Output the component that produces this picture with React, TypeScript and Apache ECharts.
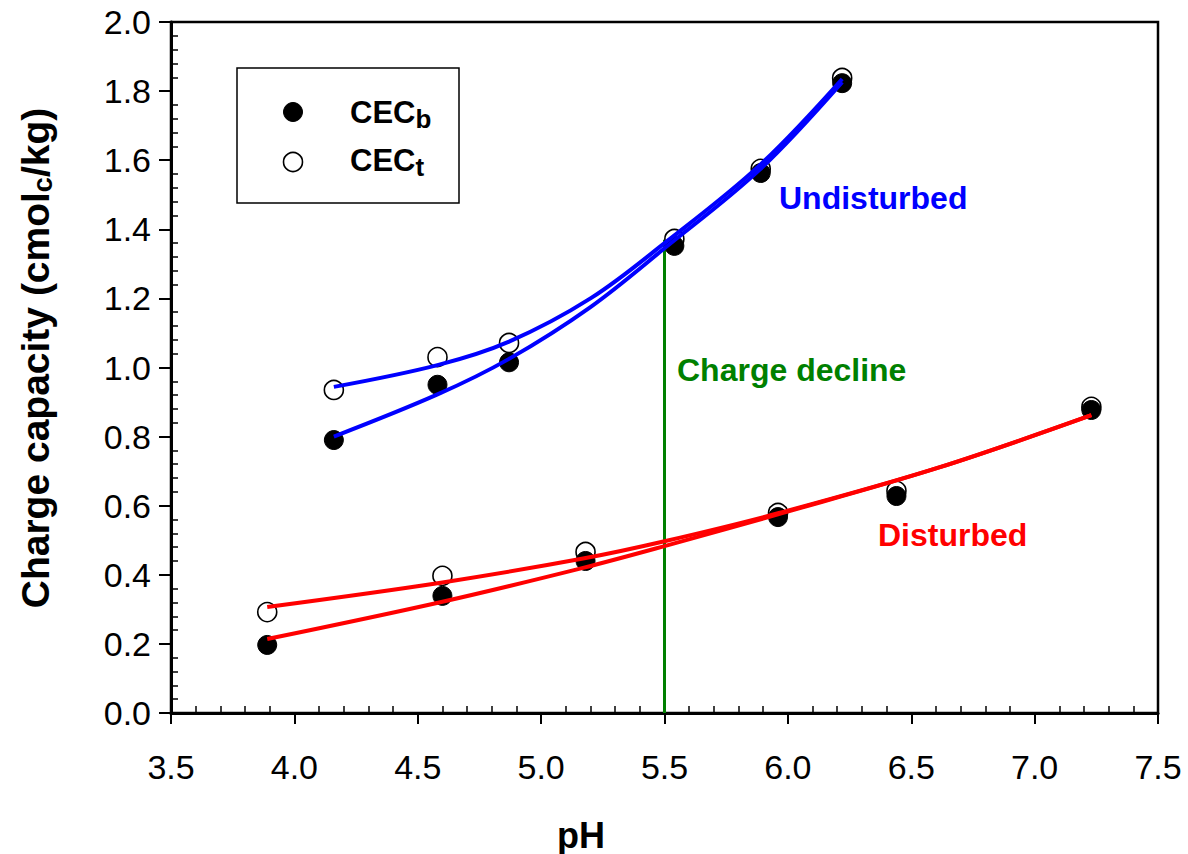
import React, { useEffect, useRef } from "react";
import * as echarts from "echarts";

// ---- Axis settings ----
const xMin = 3.5;
const xMax = 7.5;
const xStep = 0.5;
const yMin = 0;
const yMax = 2.0;
const yStep = 0.2;

// ---- Measured points ----
const undistPH = [4.16, 4.58, 4.87, 5.54, 5.89, 6.22];
const undistCECb = [0.79, 0.95, 1.015, 1.352, 1.563, 1.823];
const undistCECt = [0.935, 1.03, 1.071, 1.372, 1.575, 1.838];

const distPH = [3.89, 4.6, 5.18, 5.96, 6.44, 7.23];
const distCECb = [0.197, 0.339, 0.44, 0.567, 0.628, 0.877];
const distCECt = [0.292, 0.397, 0.466, 0.579, 0.643, 0.886];

// ---- Fitted curves ----
const undistFitPH = [4.16, 4.58, 4.87, 5.2, 5.5, 5.885, 6.22];
const undistFitB = [0.8, 0.922, 1.025, 1.175, 1.345, 1.572, 1.826];
const undistFitT = [0.944, 1.007, 1.075, 1.2, 1.36, 1.585, 1.835];

const distFitPH = [3.89, 4.6, 5.17, 5.5, 5.96, 6.61, 7.23];
const distFitB = [0.214, 0.322, 0.42, 0.483, 0.575, 0.71, 0.862];
const distFitT = [0.307, 0.378, 0.447, 0.497, 0.578, 0.71, 0.862];

// ---- Charge decline marker ----
const declinePH = 5.5;
const declineTop = 1.37;

const FONT = 'Arial, "Liberation Sans", Helvetica, sans-serif';

const pair = (xs: number[], ys: number[]) => xs.map((x, i) => [x, ys[i]]);

export default function App() {
  const ref = useRef<HTMLDivElement>(null);

  useEffect(() => {
    if (!ref.current) return;
    const chart = echarts.init(ref.current, null, { renderer: "svg" });

    const scatterOpen = (data: number[][]) => ({
      type: "scatter",
      data,
      symbol: "circle",
      symbolSize: 19,
      itemStyle: { color: "#ffffff", borderColor: "#000000", borderWidth: 1.6, opacity: 1 },
      z: 3,
      silent: true,
    });
    const scatterFilled = (data: number[][]) => ({
      type: "scatter",
      data,
      symbol: "circle",
      symbolSize: 19,
      itemStyle: { color: "#000000", borderColor: "#000000", borderWidth: 1, opacity: 1 },
      z: 4,
      silent: true,
    });
    const fitLine = (data: number[][], color: string) => ({
      type: "line",
      data,
      showSymbol: false,
      smooth: 0.35,
      lineStyle: { color, width: 4 },
      z: 5,
      silent: true,
    });

    const option: any = {
      animation: false,
      backgroundColor: "#ffffff",
      grid: {
        left: 171,
        right: 30,
        top: 22,
        bottom: 141,
        show: true,
        borderColor: "#000",
        borderWidth: 2.5,
        backgroundColor: "transparent",
      },
      xAxis: [
        {
          type: "value",
          min: xMin,
          max: xMax,
          interval: xStep,
          position: "bottom",
          axisLine: { show: true, onZero: false, lineStyle: { color: "#000", width: 3 } },
          axisTick: { show: true, inside: false, length: 11, lineStyle: { color: "#000", width: 2 } },
          minorTick: { show: false },
          splitLine: { show: false },
          axisLabel: {
            color: "#000",
            fontSize: 34,
            fontFamily: FONT,
            margin: 37,
            formatter: (v: number) => v.toFixed(1),
          },
        },
        {
          type: "value",
          min: xMin,
          max: xMax,
          interval: xStep,
          position: "bottom",
          axisLine: { show: false, onZero: false },
          axisTick: { show: false, inside: true },
          minorTick: { show: true, splitNumber: 5, length: 7, lineStyle: { color: "#000", width: 1.5 } },
          axisLabel: { show: false },
          splitLine: { show: false },
        },
      ],
      yAxis: [
        {
          type: "value",
          min: yMin,
          max: yMax,
          interval: yStep,
          position: "left",
          axisLine: { show: true, onZero: false, lineStyle: { color: "#000", width: 3 } },
          axisTick: { show: true, inside: false, length: 12, lineStyle: { color: "#000", width: 2 } },
          minorTick: { show: false },
          splitLine: { show: false },
          axisLabel: {
            color: "#000",
            fontSize: 34,
            fontFamily: FONT,
            margin: 20,
            formatter: (v: number) => v.toFixed(1),
          },
        },
        {
          type: "value",
          min: yMin,
          max: yMax,
          interval: yStep,
          position: "left",
          axisLine: { show: false, onZero: false },
          axisTick: { show: false, inside: true },
          minorTick: { show: true, splitNumber: 5, length: 7, lineStyle: { color: "#000", width: 1.5 } },
          axisLabel: { show: false },
          splitLine: { show: false },
        },
      ],
      series: [
        {
          type: "line",
          data: [
            [declinePH, 0],
            [declinePH, declineTop],
          ],
          showSymbol: false,
          lineStyle: { color: "#008000", width: 3 },
          z: 1,
          silent: true,
        },
        scatterOpen(pair(undistPH, undistCECt)),
        scatterFilled(pair(undistPH, undistCECb)),
        scatterOpen(pair(distPH, distCECt)),
        scatterFilled(pair(distPH, distCECb)),
        fitLine(pair(undistFitPH, undistFitT), "#0000ff"),
        fitLine(pair(undistFitPH, undistFitB), "#0000ff"),
        fitLine(pair(distFitPH, distFitT), "#ff0000"),
        fitLine(pair(distFitPH, distFitB), "#ff0000"),
      ],
      graphic: [
        // x axis title
        {
          type: "text",
          x: 581,
          y: 835,
          style: {
            text: "pH",
            fill: "#000",
            fontSize: 36,
            fontWeight: "bold",
            fontFamily: FONT,
            align: "center",
            verticalAlign: "middle",
          },
        },
        // y axis title
        {
          type: "text",
          x: 35,
          y: 358,
          rotation: Math.PI / 2,
          style: {
            text: "{m|Charge capacity (cmol}{s|c}{m|/kg)}",
            align: "center",
            verticalAlign: "middle",
            rich: {
              m: { fontSize: 39, fontWeight: "bold", fontFamily: FONT, fill: "#000", lineHeight: 44 },
              s: { fontSize: 27, fontWeight: "bold", fontFamily: FONT, fill: "#000", padding: [16, 0, 0, 0] },
            },
          },
        },
        // legend box
        {
          type: "rect",
          shape: { x: 237, y: 68, width: 222, height: 135 },
          style: { fill: "#fff", stroke: "#000", lineWidth: 1.5 },
          z: 10,
        },
        {
          type: "circle",
          shape: { cx: 293, cy: 112, r: 9.5 },
          style: { fill: "#000", stroke: "#000", lineWidth: 1 },
          z: 11,
        },
        {
          type: "circle",
          shape: { cx: 293, cy: 162, r: 9.5 },
          style: { fill: "#fff", stroke: "#000", lineWidth: 1.6 },
          z: 11,
        },
        {
          type: "text",
          x: 350,
          y: 112,
          z: 11,
          style: {
            text: "{m|CEC}{s|b}",
            align: "left",
            verticalAlign: "middle",
            rich: {
              m: { fontSize: 31, fontWeight: "bold", fontFamily: FONT, fill: "#000", lineHeight: 36 },
              s: { fontSize: 26, fontWeight: "bold", fontFamily: FONT, fill: "#000", padding: [14, 0, 0, 0] },
            },
          },
        },
        {
          type: "text",
          x: 350,
          y: 160,
          z: 11,
          style: {
            text: "{m|CEC}{s|t}",
            align: "left",
            verticalAlign: "middle",
            rich: {
              m: { fontSize: 31, fontWeight: "bold", fontFamily: FONT, fill: "#000", lineHeight: 36 },
              s: { fontSize: 26, fontWeight: "bold", fontFamily: FONT, fill: "#000", padding: [14, 0, 0, 0] },
            },
          },
        },
        // annotations
        {
          type: "text",
          x: 779,
          y: 198,
          z: 11,
          style: {
            text: "Undisturbed",
            fill: "#0000ff",
            fontSize: 32,
            fontWeight: "bold",
            fontFamily: FONT,
            align: "left",
            verticalAlign: "middle",
          },
        },
        {
          type: "text",
          x: 677,
          y: 370,
          z: 11,
          style: {
            text: "Charge decline",
            fill: "#008000",
            fontSize: 32,
            fontWeight: "bold",
            fontFamily: FONT,
            align: "left",
            verticalAlign: "middle",
          },
        },
        {
          type: "text",
          x: 878,
          y: 535,
          z: 11,
          style: {
            text: "Disturbed",
            fill: "#ff0000",
            fontSize: 32,
            fontWeight: "bold",
            fontFamily: FONT,
            align: "left",
            verticalAlign: "middle",
          },
        },
      ],
    };

    chart.setOption(option);
    return () => chart.dispose();
  }, []);

  return (
    <div
      ref={ref}
      style={{ position: "absolute", left: 0, top: 0, width: 1188, height: 854, background: "#fff" }}
    />
  );
}
